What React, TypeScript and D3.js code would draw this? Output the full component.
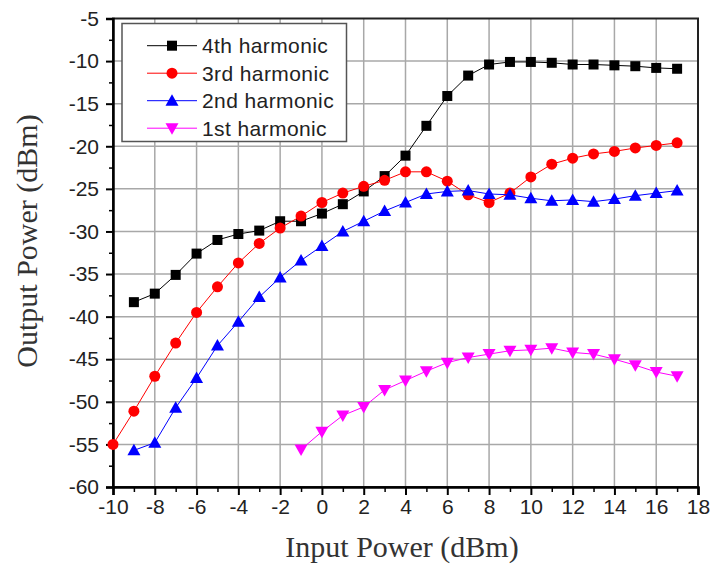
import { useEffect, useRef } from 'react'
import * as d3 from 'd3'

const inputPower = d3.range(-10, 18)

// NaN where a series has no point
const fourth = [NaN, -38.3, -37.3, -35.1, -32.6, -31.0, -30.3, -29.9, -28.8, -28.8, -27.9, -26.8, -25.3, -23.5, -21.1, -17.6, -14.1, -11.7, -10.4, -10.1, -10.1, -10.2, -10.4, -10.4, -10.5, -10.6, -10.8, -10.9]
const third = [-55.0, -51.1, -47.0, -43.1, -39.5, -36.5, -33.7, -31.4, -29.6, -28.2, -26.6, -25.5, -24.7, -24.0, -23.0, -23.0, -24.1, -25.7, -26.6, -25.5, -23.6, -22.1, -21.4, -20.9, -20.6, -20.2, -19.9, -19.6]
const second = [NaN, -55.7, -54.8, -50.7, -47.2, -43.4, -40.6, -37.7, -35.4, -33.4, -31.7, -30.0, -28.8, -27.6, -26.6, -25.6, -25.3, -25.2, -25.6, -25.7, -26.1, -26.4, -26.3, -26.5, -26.2, -25.8, -25.5, -25.2]
const first = [NaN, NaN, NaN, NaN, NaN, NaN, NaN, NaN, NaN, -55.6, -53.5, -51.6, -50.6, -48.6, -47.5, -46.4, -45.4, -44.8, -44.4, -44.0, -43.9, -43.7, -44.2, -44.4, -45.0, -45.7, -46.5, -47.0]

const xTicks = d3.range(-10, 19, 2)
const yTicks = d3.range(-60, -4, 5)

const series = [
  { name: '4th harmonic', values: fourth, color: '#000000', symbol: 'square' },
  { name: '3rd harmonic', values: third, color: '#ff0000', symbol: 'circle' },
  { name: '2nd harmonic', values: second, color: '#0000ff', symbol: 'up' },
  { name: '1st harmonic', values: first, color: '#ff00ff', symbol: 'down' },
]

function drawMarker(g: any, kind: string, color: string) {
  if (kind === 'square') {
    g.append('rect').attr('x', -5).attr('y', -5).attr('width', 10).attr('height', 10).attr('fill', color)
  } else if (kind === 'circle') {
    g.append('circle').attr('r', 5.5).attr('fill', color)
  } else if (kind === 'up') {
    g.append('path').attr('d', 'M0,-6.5L6.5,5L-6.5,5Z').attr('fill', color)
  } else {
    g.append('path').attr('d', 'M0,6.5L6.5,-5L-6.5,-5Z').attr('fill', color)
  }
}

export default function App() {
  const ref = useRef<SVGSVGElement>(null)

  useEffect(() => {
    const svg = d3.select(ref.current)
    svg.selectAll('*').remove()

    const x = d3.scaleLinear().domain([-10, 18]).range([113, 698])
    const y = d3.scaleLinear().domain([-60, -5]).range([487, 18.5])
    const sans = 'Arial, "Liberation Sans", sans-serif'
    const serif = '"Times New Roman", "Liberation Serif", serif'
    const plain = (d: any) => String(d)

    // grid
    const grid = svg.append('g').attr('stroke', '#a8a8a8').attr('stroke-width', 1.5)
    grid.selectAll('line.gx').data(xTicks.slice(1, -1)).enter().append('line')
      .attr('x1', d => x(d)).attr('x2', d => x(d)).attr('y1', y(-60)).attr('y2', y(-5))
    grid.selectAll('line.gy').data(yTicks.slice(1, -1)).enter().append('line')
      .attr('x1', x(-10)).attr('x2', x(18)).attr('y1', d => y(d)).attr('y2', d => y(d))

    // frame
    svg.append('rect').attr('x', x(-10)).attr('y', y(-5)).attr('width', x(18) - x(-10)).attr('height', y(-60) - y(-5))
      .attr('fill', 'none').attr('stroke', '#222').attr('stroke-width', 2)

    // x axis
    const xa = svg.append('g').attr('transform', `translate(0,${y(-60)})`)
      .call(d3.axisBottom(x).tickValues(xTicks).tickSize(8).tickFormat(plain))
    xa.select('.domain').attr('stroke', '#000').attr('stroke-width', 2.5)
    xa.selectAll('.tick line').attr('stroke', '#000').attr('stroke-width', 2)
    xa.selectAll('.tick text').attr('font-family', sans).attr('font-size', 21).attr('fill', '#222').attr('y', 12)
    svg.append('g').attr('transform', `translate(0,${y(-60)})`)
      .call(d3.axisBottom(x).tickValues(d3.range(-9, 18, 2)).tickSize(5).tickFormat(() => ''))
      .call(g => g.select('.domain').remove())
      .selectAll('.tick line').attr('stroke', '#000').attr('stroke-width', 1.5)

    // y axis
    const ya = svg.append('g').attr('transform', `translate(${x(-10)},0)`)
      .call(d3.axisLeft(y).tickValues(yTicks).tickSize(7).tickFormat(plain))
    ya.select('.domain').attr('stroke', '#000').attr('stroke-width', 2.5)
    ya.selectAll('.tick line').attr('stroke', '#000').attr('stroke-width', 2)
    ya.selectAll('.tick text').attr('font-family', sans).attr('font-size', 21).attr('fill', '#222').attr('x', -14)
    svg.append('g').attr('transform', `translate(${x(-10)},0)`)
      .call(d3.axisLeft(y).tickValues(d3.range(-57.5, -5, 5)).tickSize(4).tickFormat(() => ''))
      .call(g => g.select('.domain').remove())
      .selectAll('.tick line').attr('stroke', '#000').attr('stroke-width', 1.5)

    // series
    series.forEach(s => {
      const pts = inputPower.map((p, i) => [p, s.values[i]] as [number, number]).filter(d => !isNaN(d[1]))
      svg.append('path').datum(pts)
        .attr('d', d3.line<[number, number]>().x(d => x(d[0])).y(d => y(d[1])))
        .attr('fill', 'none').attr('stroke', s.color).attr('stroke-width', 1)
      svg.append('g').selectAll('g').data(pts).enter().append('g')
        .attr('transform', d => `translate(${x(d[0])},${y(d[1])})`)
        .each(function () { drawMarker(d3.select(this), s.symbol, s.color) })
    })

    // legend
    const lg = svg.append('g')
    lg.append('rect').attr('x', 122).attr('y', 23.5).attr('width', 224.5).attr('height', 118)
      .attr('fill', '#fff').attr('stroke', '#555').attr('stroke-width', 1.5)
    series.forEach((s, i) => {
      const cy = 45.7 + i * 27.5
      const row = lg.append('g').attr('transform', `translate(0,${cy})`)
      row.append('line').attr('x1', 147).attr('x2', 197).attr('stroke', s.color).attr('stroke-width', 1)
      drawMarker(row.append('g').attr('transform', 'translate(172,0)'), s.symbol, s.color)
      row.append('text').attr('x', 202).attr('y', 7.5).attr('font-family', sans).attr('font-size', 21)
        .attr('letter-spacing', 0.4).attr('fill', '#222').text(s.name)
    })

    // axis titles
    svg.append('text').attr('x', 402).attr('y', 557).attr('text-anchor', 'middle')
      .attr('font-family', serif).attr('font-size', 30).attr('fill', '#333').text('Input Power (dBm)')
    svg.append('text').attr('transform', 'translate(37,241) rotate(-90)').attr('text-anchor', 'middle')
      .attr('font-family', serif).attr('font-size', 30).attr('fill', '#333').text('Output Power (dBm)')
  }, [])

  return <svg ref={ref} width={712} height={566} style={{ position: 'absolute', left: 0, top: 0, background: '#fff' }} />
}
